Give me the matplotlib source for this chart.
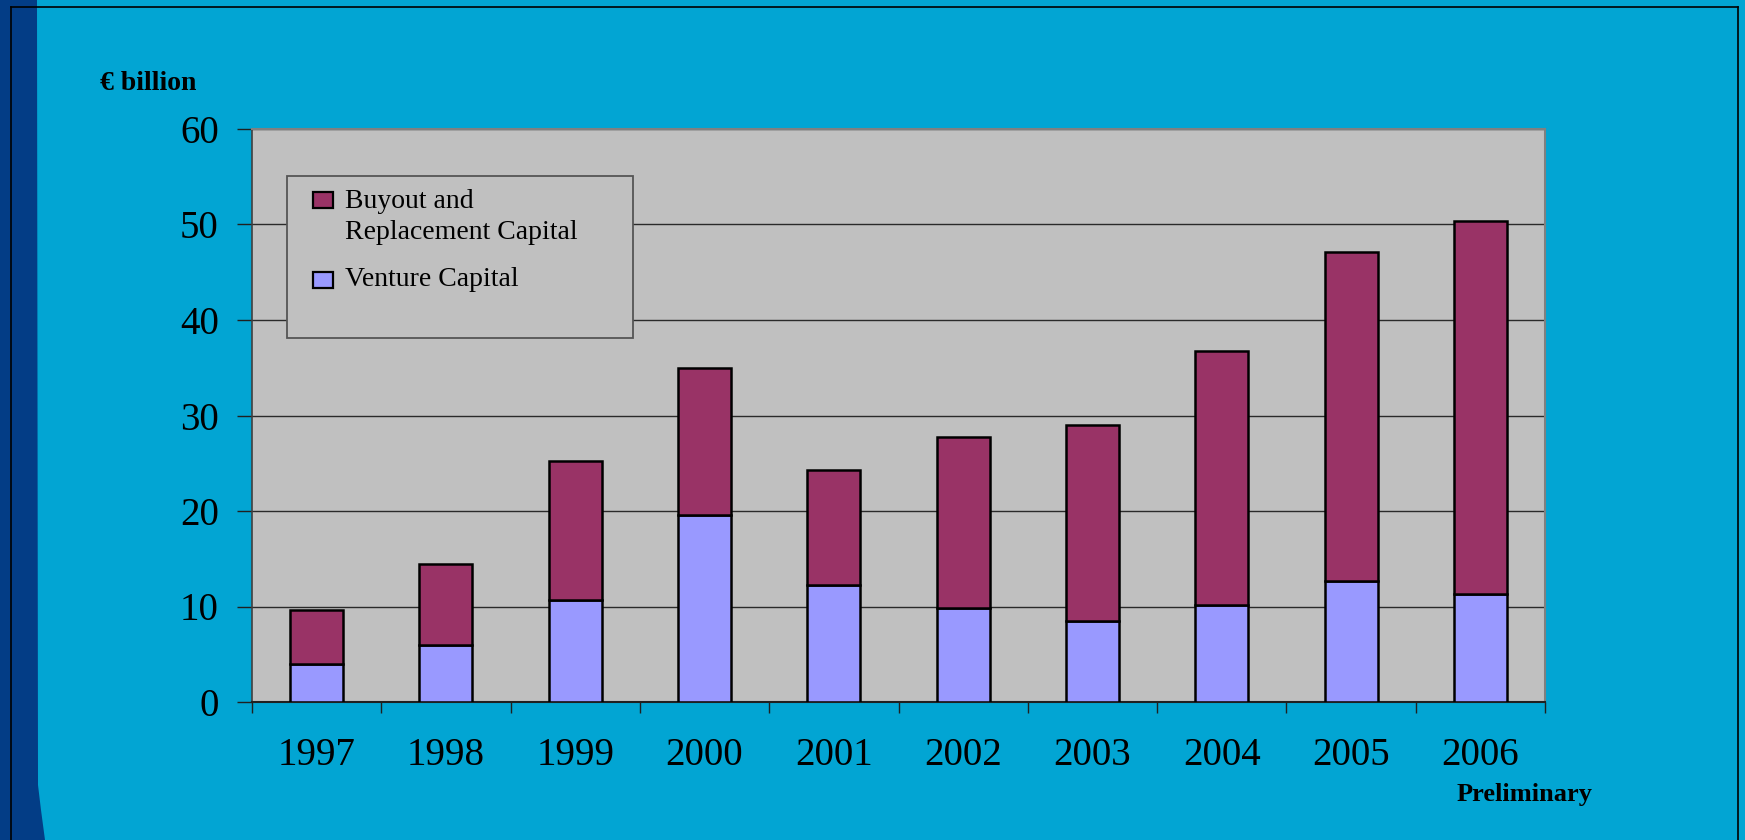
import numpy as np
import matplotlib
matplotlib.use("Agg")
import matplotlib.pyplot as plt
import matplotlib.patches as mpatches
from matplotlib.lines import Line2D

# ── Data ──────────────────────────────────────────────────────────────────────
YEARS   = ["1997", "1998", "1999", "2000", "2001", "2002", "2003", "2004", "2005", "2006"]
VENTURE = [4.0, 6.0, 10.7, 19.6, 12.2, 9.8, 8.5, 10.2, 12.7, 11.3]
BUYOUT  = [5.6, 8.5, 14.5, 15.4, 12.1, 17.9, 20.5, 26.6, 34.4, 39.1]
YTICKS  = [0, 10, 20, 30, 40, 50, 60]
LEGEND_LABELS = ["Buyout and\nReplacement Capital", "Venture Capital"]

# Colours
BG       = "#02A5D3"
NAVY     = "#033D86"
PLOT_BG  = "#C0C0C0"
PLUM     = "#993366"
LAVENDER = "#9999FF"
GRID     = "#2A2A2A"

plt.rcParams["font.family"] = ["Liberation Serif", "DejaVu Serif"]

W, H = 1745, 840
fig = plt.figure(figsize=(W / 100, H / 100), dpi=100, facecolor=BG)

def px(x, y):
    """pixel coords (from top-left) -> figure fraction"""
    return x / W, (H - y) / H

# left navy strip + frame lines
fig.patches.append(mpatches.Polygon(
    [(0, 0), (45 / W, 0), (41 / W, 30 / H), (38 / W, 55 / H), (37 / W, 1), (0, 1)],
    closed=True, transform=fig.transFigure, facecolor=NAVY, edgecolor="none", zorder=0))
for xs, ys in [([11, 11], [0, 833]), ([1738, 1738], [0, 833]), ([11, 1738], [833, 833])]:
    fig.add_artist(Line2D(np.array(xs) / W, np.array(ys) / H, color="black", lw=1.2,
                          transform=fig.transFigure))

# ── Axes ──────────────────────────────────────────────────────────────────────
L, R, T, B = 252, 1545, 129, 702
ax = fig.add_axes([L / W, (H - B) / H, (R - L) / W, (B - T) / H])
ax.set_facecolor(PLOT_BG)

x = np.arange(len(YEARS))
vc = ax.bar(x, VENTURE, width=0.41, color=LAVENDER, edgecolor="black", linewidth=1.8, zorder=3)
bo = ax.bar(x, BUYOUT, bottom=VENTURE, width=0.41, color=PLUM, edgecolor="black",
            linewidth=1.8, zorder=3)

ax.set_xlim(-0.5, len(YEARS) - 0.5)
ax.set_ylim(0, 60)
ax.set_yticks(YTICKS)
ax.yaxis.grid(True, color=GRID, linewidth=1.0, zorder=1)
ax.set_axisbelow(True)

ax.set_xticks(np.arange(-0.5, len(YEARS)), labels=[])
ax.set_xticks(x, labels=YEARS, minor=True)
ax.tick_params(axis="x", which="major", direction="out", length=8, width=1, color="#202020")
ax.tick_params(axis="x", which="minor", length=0, pad=25, labelsize=28)
ax.tick_params(axis="y", direction="out", length=11, width=1, color="#202020",
               pad=13, labelsize=28)

for side in ["top", "right"]:
    ax.spines[side].set_color("#808080")
    ax.spines[side].set_linewidth(1.5)
ax.spines["left"].set_color("#404040")
ax.spines["bottom"].set_color("#202020")
ax.spines["left"].set_linewidth(1.2)
ax.spines["bottom"].set_linewidth(1.5)

# ── Legend (drawn by hand: framed box, swatch aligned with first text line) ──
fig.add_artist(mpatches.Rectangle(px(287, 338), (633 - 287) / W, (338 - 176) / H,
                                  transform=fig.transFigure, facecolor=PLOT_BG,
                                  edgecolor="#555555", linewidth=1.3, zorder=4))
for label, colour, top, base in zip(LEGEND_LABELS, [PLUM, LAVENDER], [192, 272], [239, 286]):
    fig.add_artist(mpatches.Rectangle(px(313, top + 16), 20 / W, 16 / H,
                                      transform=fig.transFigure, facecolor=colour,
                                      edgecolor="black", linewidth=1.6, zorder=5))
    fig.text(*px(345, base), label, fontsize=20, ha="left", va="baseline",
             linespacing=1.32, zorder=5)

# ── Text ──────────────────────────────────────────────────────────────────────
fig.text(*px(148, 83), "€ billion", fontsize=20, fontweight="bold", ha="center", va="center")
fig.text(*px(1525, 795), "Preliminary", fontsize=19, fontweight="bold",
         ha="center", va="center")

fig.savefig("out.png", dpi=100, facecolor=BG)
